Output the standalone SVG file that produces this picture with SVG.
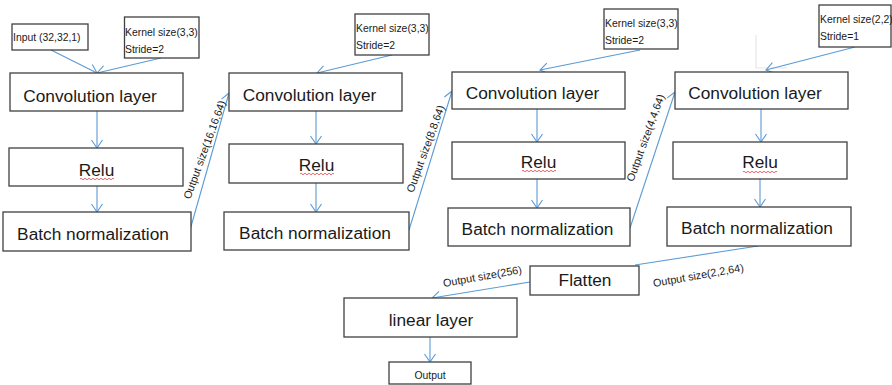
<svg xmlns="http://www.w3.org/2000/svg" width="892" height="385" viewBox="0 0 892 385">
  <style>
    .box { fill: #ffffff; stroke: #404040; stroke-width: 1.3; }
    .lbl { font-family: "Liberation Sans", Arial, sans-serif; font-size: 17.3px; fill: #1a1a1a; text-anchor: middle; }
    .small { font-family: "Liberation Sans", Arial, sans-serif; font-size: 10.4px; fill: #1a1a1a; }
    .note { font-family: "Liberation Sans", Arial, sans-serif; font-size: 10.8px; fill: #1a1a1a; text-anchor: middle; }
    .edge { fill: none; stroke: #5b9bd5; stroke-width: 1.1; }
    .squiggle { fill: none; stroke: #e04040; stroke-width: 0.8; }
    .faint { fill: none; stroke: #e6e6e6; stroke-width: 1.2; }
  </style>
  <defs>
    <marker id="open-arrow" viewBox="0 0 9 11" markerWidth="9" markerHeight="11" refX="8" refY="5.5" orient="auto" markerUnits="userSpaceOnUse" overflow="visible">
      <path d="M0,0 L8,5.5 L0,11" fill="none" stroke="#5b9bd5" stroke-width="1.1"/>
    </marker>
  </defs>

  <rect width="892" height="385" fill="#ffffff"/>

  <!-- stray guide mark -->
  <path class="faint" d="M756,35 L756,68 L787,68"/>

  <!-- connectors -->
  <g id="connectors">
    <line class="edge" x1="51" y1="50" x2="97" y2="73" marker-end="url(#open-arrow)"/>
    <line class="edge" x1="161" y1="58" x2="97" y2="73" marker-end="url(#open-arrow)"/>
    <line class="edge" x1="97" y1="111" x2="97" y2="148" marker-end="url(#open-arrow)"/>
    <line class="edge" x1="97" y1="186" x2="97" y2="212" marker-end="url(#open-arrow)"/>
    <line class="edge" x1="190" y1="230" x2="229" y2="93" marker-end="url(#open-arrow)"/>

    <line class="edge" x1="392" y1="55" x2="317" y2="73" marker-end="url(#open-arrow)"/>
    <line class="edge" x1="316" y1="111" x2="316" y2="144" marker-end="url(#open-arrow)"/>
    <line class="edge" x1="316" y1="183" x2="316" y2="212" marker-end="url(#open-arrow)"/>
    <line class="edge" x1="409" y1="230" x2="452" y2="91" marker-end="url(#open-arrow)"/>

    <line class="edge" x1="640" y1="50" x2="540" y2="70" marker-end="url(#open-arrow)"/>
    <line class="edge" x1="537" y1="109" x2="537" y2="142" marker-end="url(#open-arrow)"/>
    <line class="edge" x1="537" y1="179" x2="537" y2="208" marker-end="url(#open-arrow)"/>
    <line class="edge" x1="630" y1="228" x2="675" y2="92" marker-end="url(#open-arrow)"/>

    <line class="edge" x1="855" y1="47" x2="766" y2="70" marker-end="url(#open-arrow)"/>
    <line class="edge" x1="761" y1="109" x2="761" y2="142" marker-end="url(#open-arrow)"/>
    <line class="edge" x1="760" y1="179" x2="760" y2="207" marker-end="url(#open-arrow)"/>

    <line class="edge" x1="758" y1="246" x2="635" y2="265"/>
    <line class="edge" x1="530" y1="282" x2="432" y2="298" marker-end="url(#open-arrow)"/>
    <line class="edge" x1="430" y1="337" x2="430" y2="362" marker-end="url(#open-arrow)"/>

    <!-- shape annotations -->
    <text class="note" transform="translate(208,151) rotate(-70)">Output size(16,16,64)</text>
    <text class="note" transform="translate(429,150) rotate(-70)">Output size(8,8,64)</text>
    <text class="note" transform="translate(649,139) rotate(-70)">Output size(4,4,64)</text>
    <text class="note" transform="translate(483,280) rotate(-10)">Output size(256)</text>
    <text class="note" transform="translate(699,279) rotate(-10)">Output size(2,2,64)</text>
  </g>

  <!-- stage 1 -->
  <g id="input">
    <rect class="box" x="12" y="24" width="76" height="26"/>
    <text class="small" x="13" y="41">Input (32,32,1)</text>
  </g>
  <g id="kernel1">
    <rect class="box" x="124.5" y="17" width="74.5" height="41"/>
    <text class="small" x="125" y="36">Kernel size(3,3)</text>
    <text class="small" x="125" y="53">Stride=2</text>
  </g>
  <g id="conv1">
    <rect class="box" x="10" y="73" width="173" height="38"/>
    <text class="lbl" x="90" y="102">Convolution layer</text>
  </g>
  <g id="relu1">
    <rect class="box" x="9" y="148" width="174" height="38"/>
    <text class="lbl" x="96.5" y="176">Relu</text>
    <path class="squiggle" d="M80,179 q1,-1.5 2,0 t2,0 t2,0 t2,0 t2,0 t2,0 t2,0 t2,0 t2,0 t2,0 t2,0 t2,0 t2,0 t2,0 t2,0 t2,0 t2,0"/>
  </g>
  <g id="bn1">
    <rect class="box" x="3" y="212" width="188" height="39"/>
    <text class="lbl" x="93" y="240">Batch normalization</text>
  </g>

  <!-- stage 2 -->
  <g id="kernel2">
    <rect class="box" x="355" y="14" width="74" height="41"/>
    <text class="small" x="356" y="32">Kernel size(3,3)</text>
    <text class="small" x="356" y="48.5">Stride=2</text>
  </g>
  <g id="conv2">
    <rect class="box" x="229" y="73" width="173" height="38"/>
    <text class="lbl" x="309.5" y="101">Convolution layer</text>
  </g>
  <g id="relu2">
    <rect class="box" x="229" y="144" width="174" height="39"/>
    <text class="lbl" x="316.5" y="171">Relu</text>
    <path class="squiggle" d="M300,174 q1,-1.5 2,0 t2,0 t2,0 t2,0 t2,0 t2,0 t2,0 t2,0 t2,0 t2,0 t2,0 t2,0 t2,0 t2,0 t2,0 t2,0 t2,0"/>
  </g>
  <g id="bn2">
    <rect class="box" x="224" y="212" width="185" height="38"/>
    <text class="lbl" x="315" y="239">Batch normalization</text>
  </g>

  <!-- stage 3 -->
  <g id="kernel3">
    <rect class="box" x="604" y="9" width="74" height="40"/>
    <text class="small" x="605" y="27">Kernel size(3,3)</text>
    <text class="small" x="605" y="44">Stride=2</text>
  </g>
  <g id="conv3">
    <rect class="box" x="452" y="72" width="173" height="37"/>
    <text class="lbl" x="532.5" y="99">Convolution layer</text>
  </g>
  <g id="relu3">
    <rect class="box" x="452" y="142" width="173" height="37"/>
    <text class="lbl" x="538.5" y="168">Relu</text>
    <path class="squiggle" d="M522,171 q1,-1.5 2,0 t2,0 t2,0 t2,0 t2,0 t2,0 t2,0 t2,0 t2,0 t2,0 t2,0 t2,0 t2,0 t2,0 t2,0 t2,0 t2,0"/>
  </g>
  <g id="bn3">
    <rect class="box" x="448" y="208" width="182" height="38"/>
    <text class="lbl" x="537.5" y="235">Batch normalization</text>
  </g>

  <!-- stage 4 -->
  <g id="kernel4">
    <rect class="box" x="819" y="5" width="72" height="42"/>
    <text class="small" x="820" y="23">Kernel size(2,2)</text>
    <text class="small" x="820" y="40">Stride=1</text>
  </g>
  <g id="conv4">
    <rect class="box" x="675" y="72" width="173" height="37"/>
    <text class="lbl" x="755" y="99">Convolution layer</text>
  </g>
  <g id="relu4">
    <rect class="box" x="673" y="142" width="174" height="37"/>
    <text class="lbl" x="760" y="168">Relu</text>
    <path class="squiggle" d="M743,172 q1,-1.5 2,0 t2,0 t2,0 t2,0 t2,0 t2,0 t2,0 t2,0 t2,0 t2,0 t2,0 t2,0 t2,0 t2,0 t2,0 t2,0 t2,0"/>
  </g>
  <g id="bn4">
    <rect class="box" x="667" y="207" width="184" height="39"/>
    <text class="lbl" x="757" y="234">Batch normalization</text>
  </g>

  <!-- head -->
  <g id="flatten">
    <rect class="box" x="530" y="266" width="109" height="29"/>
    <text class="lbl" x="585" y="286">Flatten</text>
  </g>
  <g id="linear">
    <rect class="box" x="344" y="298" width="173" height="39"/>
    <text class="lbl" x="431" y="326">linear layer</text>
  </g>
  <g id="output">
    <rect class="box" x="389" y="362" width="82" height="22"/>
    <text class="small" x="430" y="379" text-anchor="middle">Output</text>
  </g>
</svg>
